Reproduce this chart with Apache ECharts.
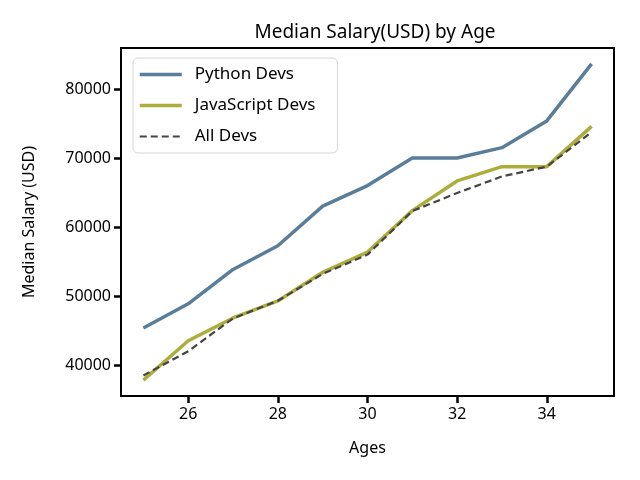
<!DOCTYPE html>
<html><head><meta charset="utf-8">
<script src="https://cdn.jsdelivr.net/npm/echarts@6/dist/echarts.min.js"></script>
<style>html,body{margin:0;padding:0;background:#fff}#c{width:640px;height:480px}</style>
</head><body><div id="c"></div>
<script>
const ages = [25, 26, 27, 28, 29, 30, 31, 32, 33, 34, 35];
const pyDev = [45372, 48876, 53850, 57287, 63016, 65998, 70003, 70000, 71496, 75370, 83640];
const jsDev = [37810, 43515, 46823, 49293, 53437, 56373, 62375, 66674, 68745, 68746, 74583];
const allDev = [38496, 42000, 46752, 49320, 53200, 56000, 62316, 64928, 67317, 68748, 73752];
const xTicks = [26, 28, 30, 32, 34];
const yTicks = [40000, 50000, 60000, 70000, 80000];

const font = 'Noto Sans';
const chart = echarts.init(document.getElementById('c'));
const pair = (ys) => ages.map((a, i) => [a, ys[i]]);
chart.setOption({
  animation: false,
  textStyle: { fontFamily: font },
  title: { text: 'Median Salary(USD) by Age', left: 370, top: 18, textAlign: 'center',
    textStyle: { fontFamily: font, fontSize: 19, fontWeight: 'normal', color: '#000' } },
  grid: { left: 121, right: 26, top: 48, bottom: 84, show: true, borderColor: '#000', borderWidth: 2, backgroundColor: 'transparent' },
  legend: {
    left: 133, top: 58, orient: 'vertical', itemWidth: 42, itemHeight: 14, itemGap: 14,
    padding: [8, 22, 8, 5], borderColor: '#d5d5d5', borderWidth: 1, borderRadius: 5, backgroundColor: '#fff',
    itemStyle: { opacity: 0 },
    textStyle: { fontFamily: font, fontSize: 17, color: '#000', padding: [0, 0, 0, 8] },
    data: [
      { name: 'Python Devs', lineStyle: { width: 3.5 } },
      { name: 'JavaScript Devs', lineStyle: { width: 3.5 } },
      { name: 'All Devs', lineStyle: { width: 2.2 } }
    ]
  },
  xAxis: {
    type: 'value', min: 24.5, max: 35.5, name: 'Ages', nameLocation: 'middle', nameGap: 44,
    nameTextStyle: { fontFamily: font, fontSize: 16, color: '#000' },
    axisLine: { show: true, lineStyle: { color: '#000', width: 2 } },
    axisTick: { show: true, length: 7, inside: false, customValues: xTicks, lineStyle: { color: '#000', width: 2.5 } },
    axisLabel: { customValues: xTicks, fontFamily: font, fontSize: 16, color: '#000', margin: 10 },
    splitLine: { show: false }
  },
  yAxis: {
    type: 'value', min: 35518, max: 85931, name: 'Median Salary (USD)', nameLocation: 'middle', nameGap: 84,
    nameTextStyle: { fontFamily: font, fontSize: 16, color: '#000' },
    axisLine: { show: true, lineStyle: { color: '#000', width: 2 } },
    axisTick: { show: true, length: 7, customValues: yTicks, lineStyle: { color: '#000', width: 2.5 } },
    axisLabel: { customValues: yTicks, fontFamily: font, fontSize: 16, color: '#000', margin: 10,
      formatter: (v) => String(v) },
    splitLine: { show: false }
  },
  series: [
    { name: 'Python Devs', type: 'line', data: pair(pyDev), symbol: 'none', color: '#5a7d9a', lineStyle: { width: 3.5, color: '#5a7d9a' } },
    { name: 'JavaScript Devs', type: 'line', data: pair(jsDev), symbol: 'none', color: '#adad3b', lineStyle: { width: 3.5, color: '#adad3b' } },
    { name: 'All Devs', type: 'line', data: pair(allDev), symbol: 'none', color: '#444444', lineStyle: { width: 2.2, type: [7, 4], color: '#444444' } }
  ]
});
</script></body></html>
